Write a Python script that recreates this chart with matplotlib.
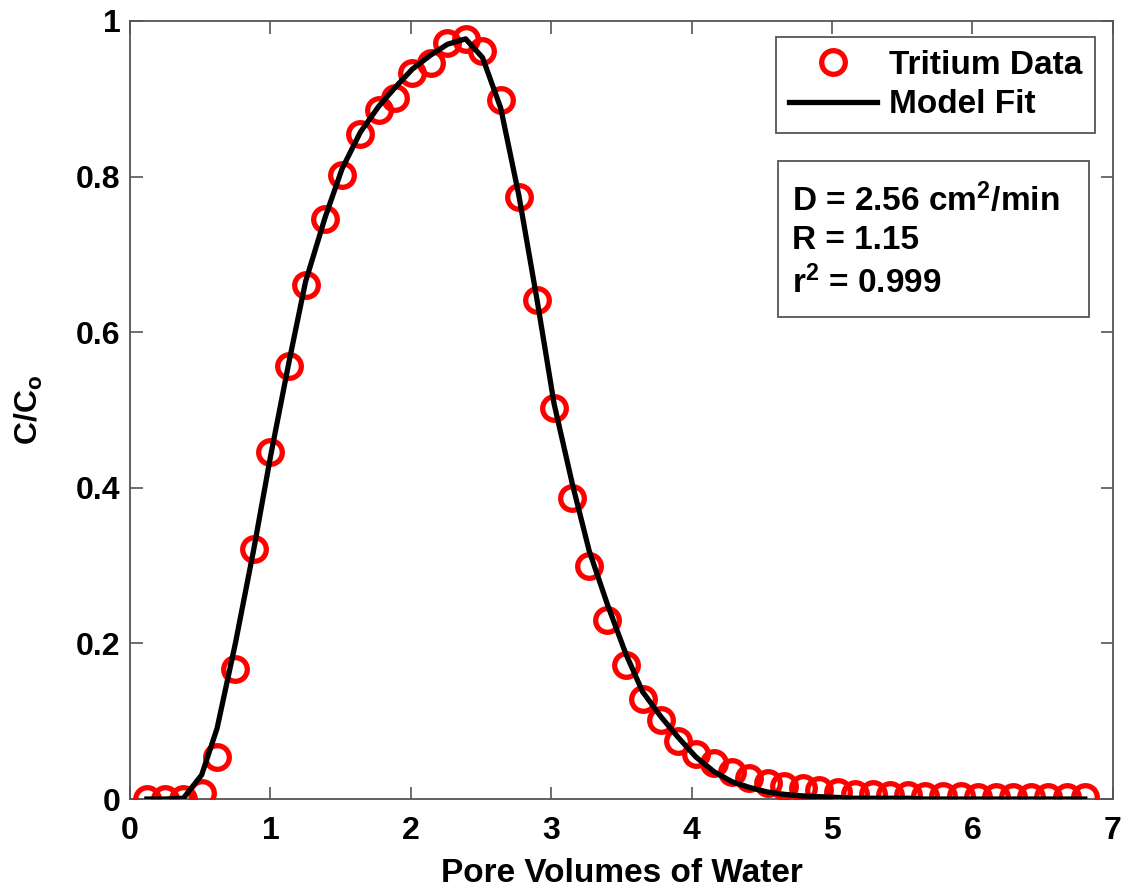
import numpy as np
import matplotlib
matplotlib.use("Agg")
import matplotlib.pyplot as plt
from matplotlib.patches import Rectangle

plt.rcParams["font.family"] = ["Liberation Sans", "DejaVu Sans"]
plt.rcParams["font.weight"] = "bold"
plt.rcParams["mathtext.fontset"] = "custom"
plt.rcParams["mathtext.rm"] = "Liberation Sans:bold"
plt.rcParams["mathtext.it"] = "Liberation Sans:bold"
plt.rcParams["mathtext.bf"] = "Liberation Sans:bold"
plt.rcParams["mathtext.default"] = "rm"

# pore volumes at each sample
pv = [0.12, 0.25, 0.38, 0.51, 0.62, 0.75, 0.88, 1.00, 1.13, 1.25,
      1.39, 1.51, 1.64, 1.77, 1.89, 2.01, 2.14, 2.26, 2.39, 2.51,
      2.64, 2.77, 2.90, 3.02, 3.15, 3.27, 3.40, 3.53, 3.65, 3.78,
      3.90, 4.03, 4.16, 4.29, 4.41, 4.54, 4.66, 4.79, 4.91, 5.04,
      5.16, 5.29, 5.41, 5.54, 5.66, 5.79, 5.92, 6.04, 6.17, 6.29,
      6.42, 6.54, 6.67, 6.80]
# tritium C/Co
tritium = [0.000, 0.000, 0.000, 0.008, 0.054, 0.167, 0.321, 0.446, 0.557, 0.661,
           0.745, 0.802, 0.855, 0.885, 0.901, 0.933, 0.946, 0.972, 0.977, 0.961,
           0.899, 0.774, 0.641, 0.502, 0.387, 0.300, 0.230, 0.172, 0.128, 0.101,
           0.074, 0.058, 0.046, 0.035, 0.027, 0.021, 0.017, 0.014, 0.012, 0.009,
           0.007, 0.006, 0.005, 0.005, 0.004, 0.004, 0.004, 0.003, 0.003, 0.003,
           0.003, 0.003, 0.003, 0.003]
# model fit evaluated at the same pore volumes
model = [0.000, 0.000, 0.001, 0.031, 0.091, 0.200, 0.320, 0.440, 0.560, 0.665,
         0.748, 0.810, 0.857, 0.890, 0.915, 0.938, 0.956, 0.970, 0.977, 0.953,
         0.888, 0.775, 0.640, 0.508, 0.405, 0.319, 0.250, 0.187, 0.138, 0.106,
         0.080, 0.054, 0.035, 0.022, 0.015, 0.009, 0.006, 0.004, 0.003, 0.002,
         0.001, 0.001, 0.001, 0.001, 0.000, 0.000, 0.000, 0.000, 0.000, 0.000,
         0.000, 0.000, 0.000, 0.000]

fig = plt.figure(figsize=(11.31, 8.88), dpi=100)
ax = fig.add_axes([0.115, 0.1002, 0.869, 0.8762])

ax.plot(pv, tritium, "o", mfc="none", mec="#ff0000", ms=17, mew=3.8,
        label="Tritium Data", zorder=3)
ax.plot(pv, model, "-", color="black", lw=3.8, label="Model Fit", zorder=4)

ax.set_xlim(0, 7)
ax.set_ylim(0, 1)
ax.set_xticks(range(8))
ax.set_yticks([0, 0.2, 0.4, 0.6, 0.8, 1])
ax.set_yticklabels(["0", "0.2", "0.4", "0.6", "0.8", "1"])
ax.tick_params(direction="in", length=9, width=1.2, color="#555555",
               top=True, right=True, labelsize=23)
ax.tick_params(axis="x", pad=12)
ax.tick_params(axis="y", pad=7)
for s in ax.spines.values():
    s.set_color("#555555")
    s.set_linewidth(1.3)

ax.set_xlabel("Pore Volumes of Water", fontsize=24, fontweight="bold", labelpad=9)
ax.set_ylabel("C/C$_{o}$", fontsize=23, fontweight="bold", labelpad=22)

leg = ax.legend(loc="upper right", bbox_to_anchor=(0.982, 0.979), fontsize=24,
                fancybox=False, edgecolor="#555555", framealpha=1,
                handlelength=2.65, borderpad=0.38, labelspacing=0.25,
                handletextpad=0.36, borderaxespad=0)
leg.get_frame().set_linewidth(1.3)

ax.add_patch(Rectangle((0.659, 0.620), 0.317, 0.200, transform=ax.transAxes,
                       fill=False, edgecolor="#555555", lw=1.3, zorder=5))
for y, s in [(0.770, "D = 2.56 cm$^{2}$/min"), (0.718, "R = 1.15"),
             (0.663, "r$^{2}$ = 0.999")]:
    ax.text(0.674, y, s, transform=ax.transAxes, fontsize=24,
            fontweight="bold", va="center", ha="left")

fig.savefig("out.png", dpi=100)
